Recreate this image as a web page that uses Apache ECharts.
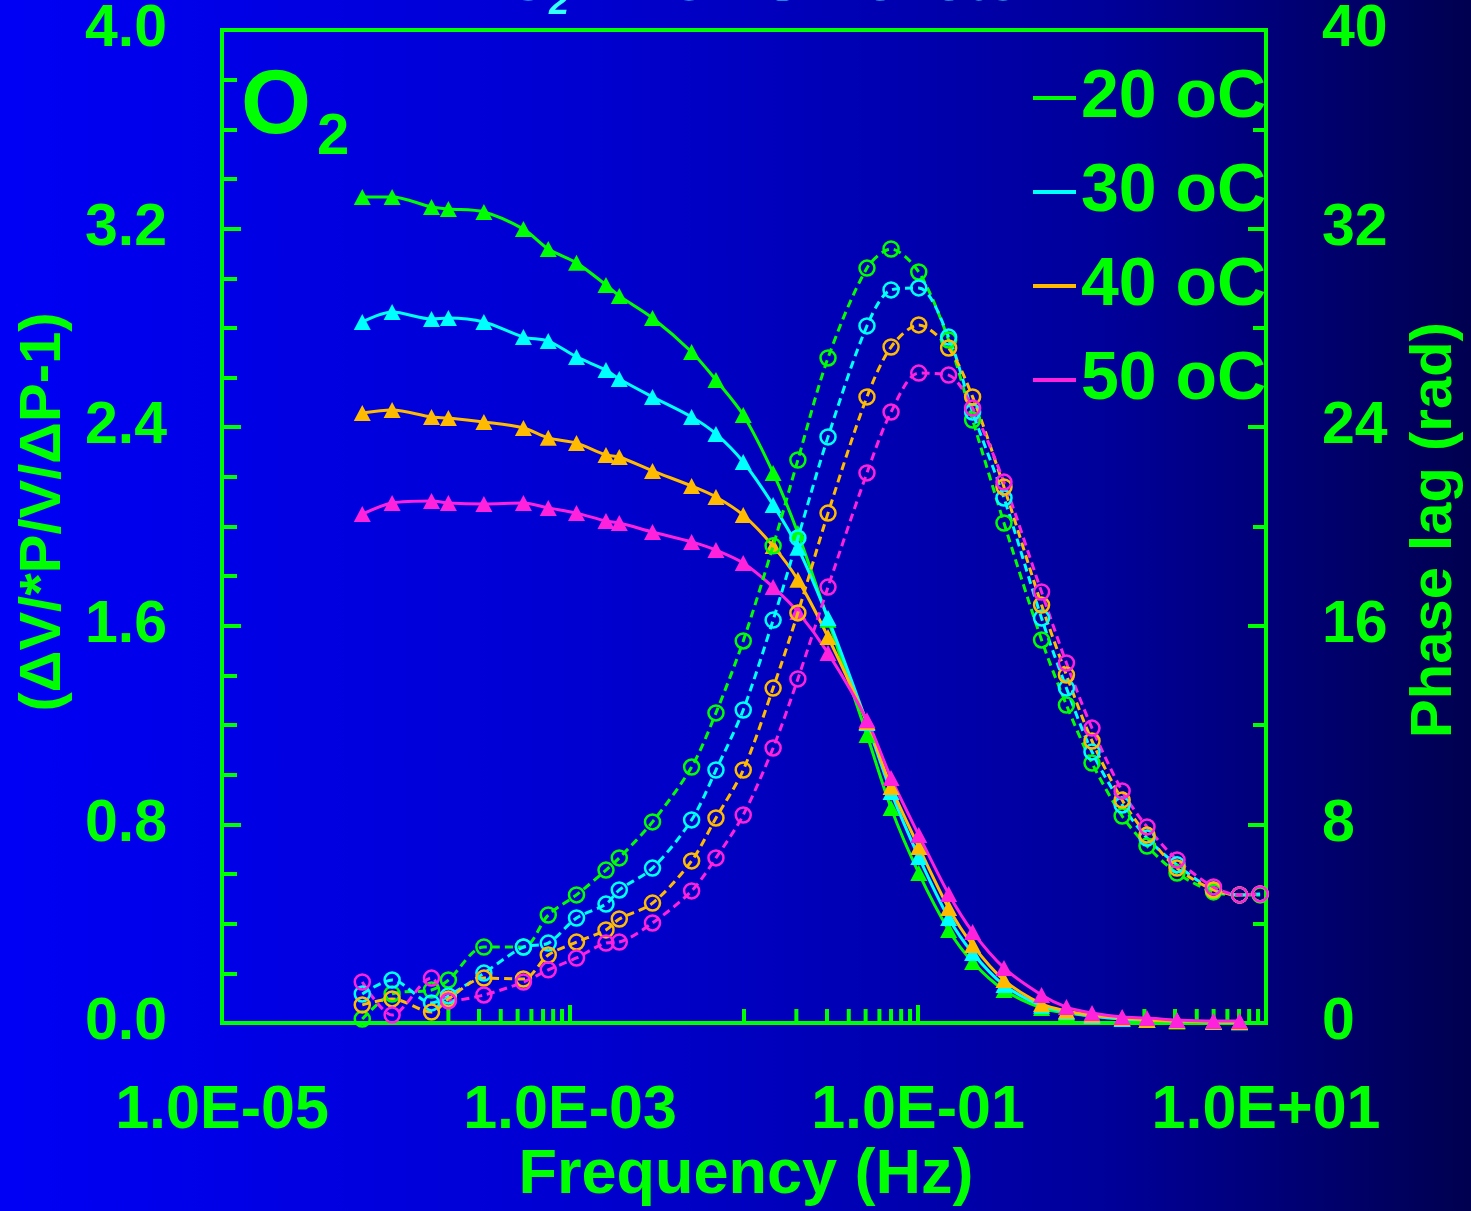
<!DOCTYPE html>
<html>
<head>
<meta charset="utf-8">
<script src="https://cdn.jsdelivr.net/npm/echarts@6/dist/echarts.min.js"></script>
<style>
  html, body { margin: 0; padding: 0; }
  #chart {
    width: 1471px; height: 1211px;
    background: linear-gradient(90deg, #0000f5 0%, #0000d0 40%, #00009a 75%, #000050 100%);
  }
</style>
</head>
<body>
<div id="chart"></div>
<script>
// frequencies (Hz), shared by all series
const freq = [6.4e-5, 9.5e-5, 1.6e-4, 2.0e-4, 3.2e-4, 5.4e-4, 7.5e-4, 1.09e-3, 1.61e-3, 1.92e-3,
    2.98e-3, 5.0e-3, 6.9e-3, 9.9e-3, 1.47e-2, 2.04e-2, 3.04e-2, 5.09e-2, 7.0e-2, 0.101,
    0.150, 0.206, 0.312, 0.513, 0.713, 1.0, 1.49, 2.07, 3.08, 4.99, 7.05, 9.25];

// left axis: (dV/*P/V/dP-1), triangles
const amp20 = [3.327, 3.327, 3.287, 3.279, 3.267, 3.198, 3.118, 3.062, 2.973, 2.929,
    2.840, 2.703, 2.590, 2.449, 2.216, 1.974, 1.624, 1.160, 0.866, 0.604,
    0.375, 0.246, 0.133, 0.060, 0.040, 0.028, 0.016, 0.012, 0.006, 0.004, 0.003, null];
const amp30 = [2.824, 2.864, 2.836, 2.840, 2.824, 2.763, 2.747, 2.683, 2.630, 2.594,
    2.522, 2.441, 2.373, 2.260, 2.087, 1.914, 1.631, 1.208, 0.931, 0.669,
    0.423, 0.282, 0.153, 0.069, 0.044, 0.028, 0.016, 0.012, 0.008, 0.004, 0.003, null];
const amp40 = [2.457, 2.469, 2.441, 2.437, 2.421, 2.397, 2.357, 2.336, 2.288, 2.280,
    2.224, 2.163, 2.119, 2.046, 1.921, 1.785, 1.555, 1.212, 0.951, 0.709,
    0.463, 0.314, 0.173, 0.077, 0.048, 0.032, 0.020, 0.012, 0.008, 0.005, 0.004, null];
const amp50 = [2.050, 2.095, 2.103, 2.095, 2.091, 2.095, 2.075, 2.054, 2.022, 2.014,
    1.978, 1.938, 1.905, 1.853, 1.756, 1.656, 1.490, 1.220, 0.987, 0.757,
    0.520, 0.367, 0.222, 0.113, 0.064, 0.040, 0.024, 0.020, 0.012, 0.008, 0.008, null];

// right axis: phase lag (rad), open circles
const lag20 = [0.16, 1.17, 1.33, 1.73, 3.06, 3.06, 4.35, 5.16, 6.16, 6.65,
    8.10, 10.31, 12.49, 15.39, 19.22, 22.68, 26.79, 30.41, 31.18, 30.25,
    27.51, 24.29, 20.14, 15.43, 12.81, 10.47, 8.34, 7.13, 6.04, 5.28, 5.16, 5.16];
const lag30 = [1.17, 1.73, 0.81, 1.09, 2.01, 3.06, 3.22, 4.23, 4.79, 5.36,
    6.24, 8.18, 10.19, 12.61, 16.23, 19.54, 23.61, 28.08, 29.53, 29.61,
    27.63, 24.61, 21.15, 16.31, 13.49, 10.92, 8.78, 7.45, 6.37, 5.36, 5.16, 5.20];
const lag40 = [0.73, 0.97, 0.44, 0.97, 1.81, 1.77, 2.74, 3.26, 3.75, 4.19,
    4.83, 6.53, 8.26, 10.19, 13.49, 16.52, 20.54, 25.22, 27.23, 28.12,
    27.19, 25.22, 21.59, 16.84, 14.02, 11.36, 8.98, 7.57, 6.24, 5.36, 5.16, 5.20];
const lag50 = [1.65, 0.32, 1.81, 0.89, 1.13, 1.65, 2.14, 2.62, 3.22, 3.26,
    4.03, 5.32, 6.65, 8.38, 11.08, 13.86, 17.56, 22.16, 24.61, 26.18,
    26.10, 24.77, 21.79, 17.36, 14.50, 11.88, 9.35, 7.90, 6.57, 5.48, 5.16, 5.20];

const names = ['20 oC', '30 oC', '40 oC', '50 oC'];
const colors = ['#00ff00', '#00ffff', '#ffbb00', '#ff22dd'];

// x-axis tick marks as drawn in the original
const xMinorTicks = [2e-4, 3e-4, 4e-4, 5e-4, 6e-4, 7e-4, 8e-4, 9e-4, 1e-2,
    2e-2, 3e-2, 4e-2, 5e-2, 6e-2, 7e-2, 8e-2, 9e-2, 2, 3, 4, 5, 6, 7, 8, 9];
const xMajorTicks = [1e-3, 1e-1, 10];

const GREEN = '#00ff00';
const FONT = '"Liberation Sans", Arial, sans-serif';

const pairs = arr => freq.map((f, i) => [f, arr[i]]);

function ampSeries(i, arr) {
    return {
        name: names[i],
        type: 'line',
        yAxisIndex: 0,
        smooth: 0.3,
        symbol: 'triangle',
        symbolSize: [17, 16],
        color: colors[i],
        itemStyle: {color: colors[i]},
        lineStyle: {color: colors[i], width: 3},
        data: pairs(arr),
        z: 3
    };
}

function lagSeries(i, arr) {
    return {
        name: names[i] + ' lag',
        type: 'line',
        yAxisIndex: 1,
        smooth: 0.3,
        symbol: 'circle',
        symbolSize: 15,
        color: colors[i],
        itemStyle: {color: 'rgba(0,0,0,0)', borderColor: colors[i], borderWidth: 2.5},
        lineStyle: {color: colors[i], width: 3, type: [8, 5]},
        data: pairs(arr),
        z: 4
    };
}

function tickSeries(values, len) {
    return {
        type: 'custom',
        xAxisIndex: 0,
        yAxisIndex: 0,
        silent: true,
        clip: false,
        z: 2,
        data: values.map(v => [v, 0]),
        renderItem: (params, api) => {
            const p = api.coord([api.value(0), 0]);
            return {
                type: 'line',
                shape: {x1: p[0], y1: p[1] - 2, x2: p[0], y2: p[1] - 2 - len},
                style: {stroke: GREEN, lineWidth: 4}
            };
        }
    };
}

function expLabel(v) {
    const e = Math.round(Math.log10(v));
    if ((e + 5) % 2 !== 0) return '';
    return '1.0E' + (e < 0 ? '-' : '+') + String(Math.abs(e)).padStart(2, '0');
}

const chart = echarts.init(document.getElementById('chart'));
chart.setOption({
    backgroundColor: 'transparent',
    animation: false,
    grid: {
        left: 222, right: 205, top: 30, bottom: 188,
        show: true, borderColor: GREEN, borderWidth: 4, backgroundColor: 'transparent'
    },
    legend: {
        data: names,
        orient: 'vertical',
        left: 1028,
        top: 59,
        padding: 5,
        icon: 'rect',
        itemWidth: 43,
        itemHeight: 4,
        itemGap: 26,
        textStyle: {color: GREEN, fontSize: 68, fontWeight: 'bold', fontFamily: FONT, lineHeight: 66}
    },
    xAxis: {
        type: 'log',
        min: 1e-5,
        max: 10,
        splitNumber: 6,
        axisLine: {show: false},
        axisTick: {show: false},
        splitLine: {show: false},
        axisLabel: {
            margin: 58,
            color: GREEN, fontSize: 61, fontWeight: 'bold', fontFamily: FONT,
            formatter: expLabel
        }
    },
    yAxis: [{
        type: 'value',
        min: 0, max: 4, interval: 0.8,
        axisLine: {show: false},
        splitLine: {show: false},
        axisTick: {show: true, inside: true, length: 19, lineStyle: {color: GREEN, width: 4}},
        minorTick: {show: true, splitNumber: 4, length: 15, lineStyle: {color: GREEN, width: 4}},
        axisLabel: {
            margin: 55,
            color: GREEN, fontSize: 59, fontWeight: 'bold', fontFamily: FONT,
            formatter: v => v.toFixed(1)
        }
    }, {
        type: 'value',
        position: 'right',
        min: 0, max: 40, interval: 8,
        axisLine: {show: false},
        splitLine: {show: false},
        axisTick: {show: true, inside: true, length: 18, lineStyle: {color: GREEN, width: 4}},
        minorTick: {show: true, splitNumber: 2, length: 13, lineStyle: {color: GREEN, width: 4}},
        axisLabel: {
            margin: 56,
            color: GREEN, fontSize: 59, fontWeight: 'bold', fontFamily: FONT
        }
    }],
    graphic: [
        // chart title, mostly cut off at the top edge
        {type: 'text', x: 506, y: -17, style: {text: 'O', fill: '#33ffff',
            font: 'italic bold 62px ' + FONT, textVerticalAlign: 'middle'}},
        {type: 'text', x: 549, y: 4, style: {text: '2', fill: '#33ffff',
            font: 'italic bold 36px ' + FONT, textVerticalAlign: 'middle'}},
        {type: 'text', x: 595, y: -17, style: {text: 'in CMS Pellets', fill: '#33ffff',
            font: 'italic bold 62px ' + FONT, textVerticalAlign: 'middle'}},
        // O2 label inside plot
        {type: 'text', x: 241, y: 108.5, z: 10, style: {text: 'O', fill: GREEN,
            font: 'bold 90px ' + FONT, textVerticalAlign: 'middle'}},
        {type: 'text', x: 317, y: 138, z: 10, style: {text: '2', fill: GREEN,
            font: 'bold 58px ' + FONT, textVerticalAlign: 'middle'}},
        // axis titles
        {type: 'text', x: 44, y: 512, rotation: Math.PI / 2, style: {text: '(ΔV/*P/V/ΔP-1)', fill: GREEN,
            font: 'bold 58px ' + FONT, textAlign: 'center', textVerticalAlign: 'middle'}},
        {type: 'text', x: 1435, y: 530, rotation: Math.PI / 2, style: {text: 'Phase lag (rad)', fill: GREEN,
            font: 'bold 58px ' + FONT, textAlign: 'center', textVerticalAlign: 'middle'}},
        {type: 'text', x: 746, y: 1176, style: {text: 'Frequency (Hz)', fill: GREEN,
            font: 'bold 63px ' + FONT, textAlign: 'center', textVerticalAlign: 'middle'}}
    ],
    series: [
        tickSeries(xMinorTicks, 12),
        tickSeries(xMajorTicks, 16),
        ampSeries(0, amp20), ampSeries(1, amp30), ampSeries(2, amp40), ampSeries(3, amp50),
        lagSeries(0, lag20), lagSeries(1, lag30), lagSeries(2, lag40), lagSeries(3, lag50)
    ]
});
</script>
</body>
</html>
